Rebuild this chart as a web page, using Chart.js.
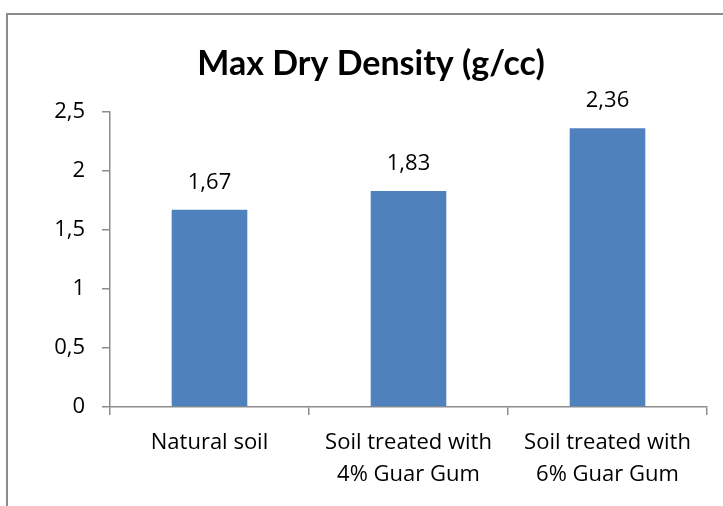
<!DOCTYPE html>
<html>
<head>
<meta charset="utf-8">
<script src="https://cdn.jsdelivr.net/npm/chart.js@4"></script>
<style>
html, body { margin: 0; padding: 0; background: #fff; }
#wrap { position: relative; width: 723px; height: 506px; overflow: hidden; }
#frame {
    position: absolute; left: 6px; top: 13px; width: 800px; height: 600px;
    border-left: 2px solid #8c8c8c; border-top: 2px solid #8c8c8c;
}
canvas { position: absolute; left: 0; top: 0; }
</style>
</head>
<body>
<div id="wrap">
<div id="frame"></div>
<canvas id="densityChart" width="723" height="506"></canvas>
</div>
<script>
// chart data
var categories = ["Natural soil", ["Soil treated with", "4% Guar Gum"], ["Soil treated with", "6% Guar Gum"]];
var densities = [1.67, 1.83, 2.36];
var yTicks = [0, 0.5, 1, 1.5, 2, 2.5];

function commaNum(v) {
    return String(v).replace(".", ",");
}

// draws the value above each bar
var valueLabels = {
    id: "valueLabels",
    afterDatasetsDraw: function (chart) {
        var ctx = chart.ctx;
        var meta = chart.getDatasetMeta(0);
        ctx.save();
        ctx.font = "22px 'Open Sans'";
        ctx.fillStyle = "#000";
        ctx.textAlign = "center";
        ctx.textBaseline = "alphabetic";
        meta.data.forEach(function (bar, i) {
            ctx.fillText(commaNum(densities[i]), bar.x, bar.y - 21);
        });
        ctx.restore();
    }
};

var ctx = document.getElementById("densityChart").getContext("2d");
var densityChart = new Chart(ctx, {
    type: "bar",
    data: {
        labels: categories,
        datasets: [{
            data: densities,
            backgroundColor: "#4f81bd",
            categoryPercentage: 1,
            barPercentage: 0.38
        }]
    },
    options: {
        responsive: false,
        animation: false,
        layout: { padding: { left: 35, right: 16, top: 0, bottom: 0 } },
        plugins: {
            legend: { display: false },
            tooltip: { enabled: false },
            title: {
                display: true,
                text: "Max Dry Density (g/cc)",
                color: "#000",
                font: { family: "Lato", size: 34, weight: "bold" },
                padding: { top: 44, bottom: 27 }
            }
        },
        scales: {
            y: {
                min: 0,
                max: 2.5,
                afterFit: function (scale) { scale.width = 75; },
                afterBuildTicks: function (scale) {
                    scale.ticks = yTicks.map(function (v) { return { value: v }; });
                },
                border: { display: true, color: "#8c8c8c", width: 1.5 },
                grid: { drawOnChartArea: false, color: "#8c8c8c", tickLength: 8, lineWidth: 1.5 },
                ticks: {
                    color: "#000",
                    font: { family: "Open Sans", size: 22 },
                    padding: 17,
                    callback: function (v) { return commaNum(v); }
                }
            },
            x: {
                afterFit: function (scale) { scale.height = 99; },
                border: { display: true, color: "#8c8c8c", width: 1.5 },
                grid: { offset: true, drawOnChartArea: false, color: "#8c8c8c", tickLength: 8, lineWidth: 1.5 },
                ticks: {
                    color: "#000",
                    font: { family: "Open Sans", size: 22, lineHeight: 1.45 },
                    padding: 12,
                    maxRotation: 0
                }
            }
        }
    },
    plugins: [valueLabels]
});
</script>
</body>
</html>
